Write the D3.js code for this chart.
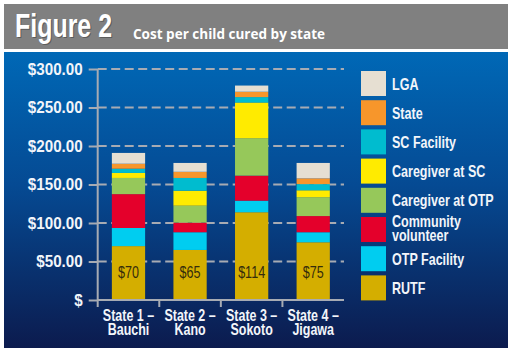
<!DOCTYPE html>
<html>
  <head>
    <meta charset="utf-8" />
    <title>Figure 2 - Cost per child cured by state</title>
    <script src="https://d3js.org/d3.v7.min.js"></script>
    <style>
      body { margin: 0; background: #fff; }
      svg { display: block; }
      .lbl { font-family: "Liberation Sans", Arial, sans-serif; font-weight: bold; fill: #f2f5fa; }
    </style>
  </head>
  <body>
    <svg width="514" height="353"></svg>
    <script>
      // data
      const states = ["State 1 – Bauchi", "State 2 – Kano", "State 3 – Sokoto", "State 4 – Jigawa"];
      const stateLines = [["State 1 –", "Bauchi"], ["State 2 –", "Kano"], ["State 3 –", "Sokoto"], ["State 4 –", "Jigawa"]];
      const components = ["RUTF", "OTP Facility", "Community volunteer", "Caregiver at OTP",
                          "Caregiver at SC", "SC Facility", "State", "LGA"];
      const rutf          = [70, 65, 114, 75];
      const otpFacility   = [23.5, 23, 15, 13];
      const communityVol  = [44, 12.5, 32.5, 21];
      const caregiverOtp  = [21, 22, 48.5, 24.5];
      const caregiverSc   = [6.5, 19.5, 46.5, 9];
      const scFacility    = [5.5, 16.5, 7, 8];
      const stateCost     = [6.5, 8, 7, 7.5];
      const lga           = [14, 11.5, 8, 20];
      const yTicks = [0, 50, 100, 150, 200, 250, 300];
      const colors = ["#d4ae00", "#00cdf0", "#e4002b", "#96c85a", "#ffeb00", "#00bccf", "#f7962b", "#e6dfd2"];

      const seriesValues = [rutf, otpFacility, communityVol, caregiverOtp, caregiverSc, scFacility, stateCost, lga];
      const table = states.map((s, i) => {
        const row = { state: s };
        components.forEach((c, k) => row[c] = seriesValues[k][i]);
        return row;
      });

      // squeeze text horizontally (no condensed fonts installed)
      function condense(sel, sx) {
        sel.each(function () {
          const t = d3.select(this);
          const x0 = +t.attr("x") || 0, y0 = +t.attr("y") || 0;
          t.attr("transform", `translate(${x0},${y0}) scale(${sx},1)`).attr("x", 0).attr("y", 0);
          t.selectAll("tspan").each(function () {
            const s = d3.select(this);
            if (s.attr("x") != null) s.attr("x", 0);
          });
        });
      }

      const svg = d3.select("svg");
      const defs = svg.append("defs");
      const grad = defs.append("linearGradient").attr("id", "bg").attr("x1", 0).attr("y1", 0).attr("x2", 0).attr("y2", 1);
      grad.append("stop").attr("offset", "0%").attr("stop-color", "#0068b6");
      grad.append("stop").attr("offset", "45%").attr("stop-color", "#054a93");
      grad.append("stop").attr("offset", "100%").attr("stop-color", "#0c1b4e");

      // header
      svg.append("rect").attr("x", 4).attr("y", 4).attr("width", 504).attr("height", 45).attr("fill", "#808080");
      svg.append("rect").attr("x", 4).attr("y", 52).attr("width", 504).attr("height", 296).attr("fill", "url(#bg)");

      svg.append("text")
        .attr("x", 16).attr("y", 38)
        .attr("textLength", 97).attr("lengthAdjust", "spacingAndGlyphs")
        .style("font-family", "'Liberation Sans', sans-serif")
        .style("font-weight", "bold").style("font-size", "34px")
        .attr("fill", "#5c5c5c").text("Figure 2");
      svg.append("text")
        .attr("x", 15).attr("y", 37)
        .attr("textLength", 97).attr("lengthAdjust", "spacingAndGlyphs")
        .style("font-family", "'Liberation Sans', sans-serif")
        .style("font-weight", "bold").style("font-size", "34px")
        .attr("fill", "#ffffff").text("Figure 2");
      svg.append("text")
        .attr("x", 133).attr("y", 39)
        .attr("textLength", 192).attr("lengthAdjust", "spacingAndGlyphs")
        .style("font-family", "'Open Sans', sans-serif")
        .style("font-weight", "bold").style("font-size", "13.5px")
        .attr("fill", "#ffffff").text("Cost per child cured by state");

      // scales
      const x = d3.scaleBand().domain(states).range([97.7, 344]).paddingInner(0.46).paddingOuter(0.23);
      const y = d3.scaleLinear().domain([0, 300]).range([300, 69]);
      const color = d3.scaleOrdinal().domain(components).range(colors);

      // gridlines
      const g = svg.append("g");
      g.selectAll("line.grid").data(yTicks.filter(d => d > 0)).join("line")
        .attr("class", "grid")
        .attr("x1", 97.7).attr("x2", 344)
        .attr("y1", d => y(d)).attr("y2", d => y(d))
        .attr("stroke", "#a7abb3").attr("stroke-width", 2).attr("stroke-dasharray", "9,4.5");

      // bars
      const stack = d3.stack().keys(components)(table);
      g.selectAll("g.layer").data(stack).join("g")
        .attr("class", "layer")
        .attr("fill", d => color(d.key))
        .selectAll("rect").data(d => d).join("rect")
        .attr("x", d => x(d.data.state))
        .attr("width", x.bandwidth())
        .attr("y", d => y(d[1]))
        .attr("height", d => y(d[0]) - y(d[1]));

      // value labels on RUTF
      const vals = g.selectAll("text.val").data(table).join("text")
        .attr("class", "val")
        .attr("x", d => x(d.state) + x.bandwidth() / 2)
        .attr("y", 278)
        .attr("text-anchor", "middle")
        .style("font-family", "'Liberation Sans', sans-serif")
        .style("font-size", "17px")
        .attr("fill", "#352c0c")
        .text(d => "$" + d.RUTF);
      condense(vals, 0.74);

      // y axis
      const yAxis = d3.axisLeft(y).tickValues(yTicks).tickSize(9).tickPadding(6)
        .tickFormat(d => d === 0 ? "$" : "$" + d3.format(".2f")(d));
      const ya = svg.append("g").attr("transform", "translate(97.7,0)").call(yAxis);
      ya.select(".domain").attr("stroke", "#a7abb3").attr("stroke-width", 2).attr("d", "M0,69V307");
      ya.selectAll(".tick line").attr("stroke", "#a7abb3").attr("stroke-width", 2);
      ya.selectAll(".tick text").attr("class", "lbl").style("font-size", "16.5px").attr("fill", null);
      condense(ya.selectAll(".tick text"), 0.92);

      // x axis
      const xa = svg.append("g");
      xa.append("line").attr("x1", 97.7).attr("x2", 344).attr("y1", 300).attr("y2", 300)
        .attr("stroke", "#a7abb3").attr("stroke-width", 2);
      xa.selectAll("line.sep").data(states.slice(1)).join("line")
        .attr("class", "sep")
        .attr("x1", d => x(d) - x.step() * x.paddingInner() / 2)
        .attr("x2", d => x(d) - x.step() * x.paddingInner() / 2)
        .attr("y1", 300).attr("y2", 307)
        .attr("stroke", "#a7abb3").attr("stroke-width", 2);
      const xl = xa.selectAll("text.cat").data(states).join("text")
        .attr("class", "cat lbl")
        .attr("text-anchor", "middle")
        .style("font-size", "16px")
        .attr("x", d => x(d) + x.bandwidth() / 2)
        .attr("y", 320.5);
      xl.selectAll("tspan").data((d, i) => stateLines[i]).join("tspan")
        .attr("x", 0)
        .attr("dy", (d, i) => i === 0 ? 0 : 15)
        .text(d => d);
      condense(xl, 0.78);

      // legend
      const legendItems = components.slice().reverse();
      const lg = svg.append("g").attr("transform", "translate(361,71)");
      const li = lg.selectAll("g").data(legendItems).join("g")
        .attr("transform", (d, i) => `translate(0,${i * 29.2})`);
      li.append("rect").attr("width", 25).attr("height", 25).attr("fill", d => color(d));
      const lt = li.append("text").attr("class", "lbl")
        .attr("x", 31)
        .attr("y", d => d === "Community volunteer" ? 10 : 18.5)
        .style("font-size", "16.5px")
        .each(function (d) {
          const words = d === "Community volunteer" ? ["Community", "volunteer"] : [d];
          const t = d3.select(this);
          words.forEach((w, i) => {
            t.append("tspan").attr("x", 0).attr("dy", i === 0 ? 0 : 14).text(w);
          });
        });
      condense(lt, 0.76);
    </script>
  </body>
</html>
